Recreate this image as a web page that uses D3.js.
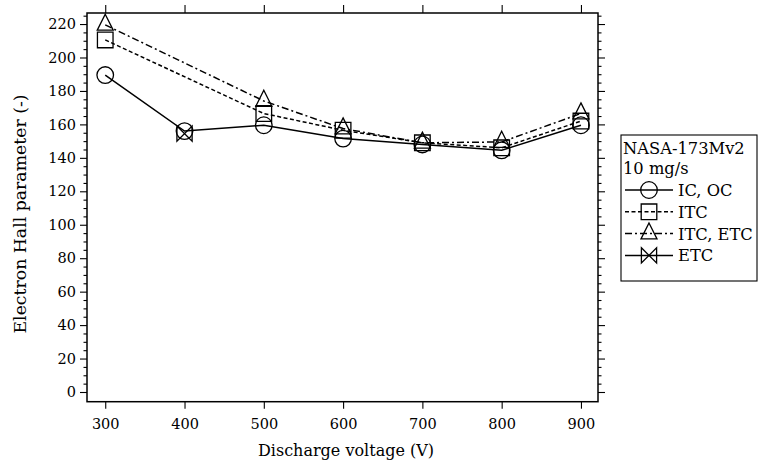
<!DOCTYPE html>
<html><head><meta charset="utf-8">
<script src="https://cdn.jsdelivr.net/npm/d3@7"></script>
<style>
html,body{margin:0;padding:0;background:#fff;}
text{font-family:"DejaVu Serif",serif;font-size:14.5px;fill:#000;}
</style></head>
<body><svg id="c" width="759" height="464"></svg>
<script>
const voltages = [300, 400, 500, 600, 700, 800, 900];
const xTicks = [300, 400, 500, 600, 700, 800, 900];
const yTicks = [0, 20, 40, 60, 80, 100, 120, 140, 160, 180, 200, 220];
const seriesNames = ["IC, OC", "ITC", "ITC, ETC", "ETC"];
const icoc   = [189.5, 156, 159.5, 151.5, 148, 144.5, 159.5];
const itc    = [210.5, null, 166.5, 156.5, 149, 146, 162];
const itcetc = [219.5, null, 174, 157.5, 149, 149.5, 166.5];
const etc    = [null, 154.5, null, null, null, null, null];
const legendTitle = ["NASA-173Mv2", "10 mg/s"];

const series = [
  {name: seriesNames[0], values: icoc,   dash: null,        marker: "circle"},
  {name: seriesNames[1], values: itc,    dash: "4,2.5",     marker: "square"},
  {name: seriesNames[2], values: itcetc, dash: "7,3,2,3",   marker: "triangle"},
  {name: seriesNames[3], values: etc,    dash: null,        marker: "bowtie"}
];

const svg = d3.select("#c");
const L = 87, T = 13, W = 511, H = 388.7;
const x = d3.scaleLinear().domain([277, 921.5]).range([L, L + W]);
const y = d3.scaleLinear().domain([-5.8, 226.6]).range([T + H, T]);

const minor = d3.range(0, 226, 5).filter(v => v % 20 !== 0);

svg.append("g").attr("transform", `translate(${L},0)`)
  .call(d3.axisLeft(y).tickValues(yTicks).tickSize(7).tickPadding(4));
svg.append("g").attr("transform", `translate(${L},0)`)
  .call(d3.axisLeft(y).tickValues(minor).tickSize(3.5).tickFormat(""));
svg.append("g").attr("transform", `translate(${L + W},0)`)
  .call(d3.axisRight(y).tickValues(yTicks).tickSize(7).tickFormat(""));
svg.append("g").attr("transform", `translate(${L + W},0)`)
  .call(d3.axisRight(y).tickValues(minor).tickSize(3.5).tickFormat(""));
svg.append("g").attr("transform", `translate(0,${T + H})`)
  .call(d3.axisBottom(x).tickValues(xTicks).tickSize(7).tickPadding(10).tickFormat(d3.format("d")));
svg.append("g").attr("transform", `translate(0,${T})`)
  .call(d3.axisTop(x).tickValues(xTicks).tickSize(8).tickFormat(""));

svg.selectAll(".domain").remove();
svg.selectAll(".tick line").attr("stroke", "#000").attr("stroke-width", 1.1);
svg.selectAll(".tick text").style("font-family", "DejaVu Serif").style("font-size", "14.5px").attr("fill", "#000");

svg.append("rect").attr("x", L).attr("y", T).attr("width", W).attr("height", H)
  .attr("fill", "none").attr("stroke", "#000").attr("stroke-width", 1.5);

svg.append("text").attr("x", 346).attr("y", 456).attr("text-anchor", "middle")
  .style("font-size", "16px").text("Discharge voltage (V)");
svg.append("text").attr("transform", `translate(26,214) rotate(-90)`)
  .attr("text-anchor", "middle").style("font-size", "17.3px").text("Electron Hall parameter (-)");

function markerPath(type, s) {
  const p = d3.path();
  if (type === "square") {
    p.rect(-s, -s, 2 * s, 2 * s);
  } else if (type === "triangle") {
    const h = 2 * s;
    p.moveTo(0, -h * 2 / 3); p.lineTo(s, h / 3); p.lineTo(-s, h / 3); p.closePath();
  } else if (type === "bowtie") {
    p.moveTo(-s, -s); p.lineTo(s, s); p.lineTo(s, -s); p.lineTo(-s, s); p.closePath();
  }
  return p.toString();
}
function drawMarker(g, type, cx, cy, s) {
  if (type === "circle") {
    g.append("circle").attr("cx", cx).attr("cy", cy).attr("r", s)
      .attr("fill", "none").attr("stroke", "#000").attr("stroke-width", 1.3);
  } else {
    g.append("path").attr("d", markerPath(type, s)).attr("transform", `translate(${cx},${cy})`)
      .attr("fill", "none").attr("stroke", "#000").attr("stroke-width", 1.3)
      .attr("stroke-linejoin", "miter");
  }
}

const sizes = {circle: 8.3, square: 7.8, triangle: 8, bowtie: 7.6};

const line = d3.line().x(d => x(d.x)).y(d => y(d.v));
const plot = svg.append("g");
series.forEach(s => {
  const pts = voltages.map((v, i) => ({x: v, v: s.values[i]})).filter(d => d.v != null);
  plot.append("path").datum(pts).attr("d", line).attr("fill", "none")
    .attr("stroke", "#000").attr("stroke-width", 1.5)
    .attr("stroke-dasharray", s.dash);
});
series.forEach(s => {
  voltages.forEach((v, i) => {
    if (s.values[i] != null) drawMarker(plot, s.marker, x(v), y(s.values[i]), sizes[s.marker]);
  });
});

const lg = svg.append("g");
lg.append("rect").attr("x", 621).attr("y", 135).attr("width", 136).attr("height", 146)
  .attr("fill", "#fff").attr("stroke", "#000").attr("stroke-width", 1.1);
lg.append("text").attr("x", 623).attr("y", 154.3).style("font-size", "16.3px").text(legendTitle[0]);
lg.append("text").attr("x", 623).attr("y", 174.3).style("font-size", "16.3px").text(legendTitle[1]);
series.forEach((s, i) => {
  const by = 196 + i * 21.8;
  const cy = by - 6;
  lg.append("line").attr("x1", 625).attr("x2", 673).attr("y1", cy).attr("y2", cy)
    .attr("stroke", "#000").attr("stroke-width", 1.5).attr("stroke-dasharray", s.dash);
  drawMarker(lg, s.marker, 649, cy, sizes[s.marker]);
  lg.append("text").attr("x", 678).attr("y", by).style("font-size", "16.3px").text(s.name);
});
</script></body></html>
